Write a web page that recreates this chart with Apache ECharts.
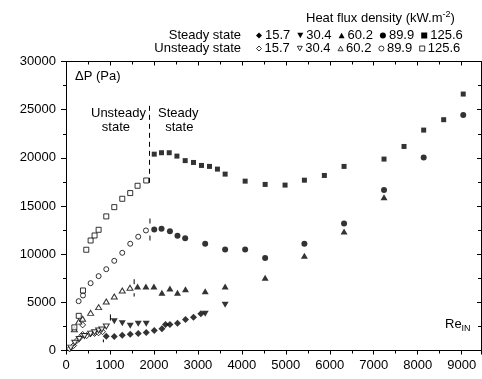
<!DOCTYPE html>
<html><head><meta charset="utf-8">
<script src="https://cdn.jsdelivr.net/npm/echarts@6/dist/echarts.min.js"></script>
<style>html,body{margin:0;padding:0;background:#fff}#c{width:482px;height:379px}</style>
</head><body><div id="c"></div>
<script>
// ---- data (Re_IN, ΔP in Pa) ----
const steady157 = [[916,1490],[1098,1450],[1280,1590],[1461,1690],[1643,1770],[1825,1870],[2007,2080],[2182,2250],[2264,2700],[2364,2700],[2536,2840],[2718,3220],[2900,3460],[3068,3810]];
const unsteady157 = [[82,170],[173,520],[250,1040],[325,1380],[378,1660],[378,2660],[470,1550],[552,1730],[650,1770],[742,1840],[830,1950]];
const steady304 = [[1098,3040],[1280,2840],[1461,2560],[1643,2770],[1825,2770],[3166,3810],[3620,4740]];
const unsteady304 = [[110,300],[200,800],[300,1200],[420,1500],[560,1750],[650,1900],[742,2080],[815,2180],[916,2490]];
const steady602 = [[1628,6650],[1818,6650],[2000,6650],[2182,5990],[2364,6440],[2536,5990],[2718,6370],[3166,6160],[3620,6650],[4530,7550],[5423,9830],[6325,12360],[7234,15920]];
const unsteady602 = [[190,2200],[290,3000],[378,3290],[560,3910],[742,4500],[916,5090],[1098,5610],[1280,6230],[1455,6510]];
const steady899 = [[2007,12570],[2173,12640],[2364,12390],[2536,11910],[2711,11660],[3166,11080],[3620,10490],[4075,10490],[4530,9590],[5423,11080],[6325,13190],[7234,16650],[8136,20040],[9036,24440]];
const unsteady899 = [[287,5120],[386,5710],[560,6990],[742,7720],[916,8440],[1098,9310],[1280,10140],[1461,11080],[1643,11810],[1818,12460]];
const steady1256 = [[2007,20380],[2173,20530],[2348,20530],[2523,20180],[2711,19710],[2900,19520],[3082,19210],[3264,19110],[3445,18830],[3620,18310],[4075,17580],[4530,17240],[4983,17170],[5423,17680],[5877,18170],[6325,19110],[7234,19870],[7689,21180],[8136,22880],[8591,23960],[9036,26620]];
const unsteady1256 = [[190,2400],[290,3600],[386,6230],[461,10460],[560,11420],[650,11940],[742,12530],[916,13920],[1098,14880],[1280,15750],[1461,16340],[1628,17100],[1825,17650]];
// transition markers: [Re, ΔP top, ΔP bottom]
const markerSquare = [1900, 25400, 17000];
const markerCircle = [1910, 13700, 11300];
const markerTri = [1550, 7400, 5600];
const markerTriDown = [1010, 3750, 3100];
const markerDiamond = [850, 1150, 850];
const fluxLabels = ['15.7','30.4','60.2','89.9','125.6'];
const xTicks = {min:0, max:9440, interval:1000};
const yTicks = {min:0, max:30000, interval:5000};

const FONT = 'Liberation Sans, Arial, sans-serif';
const chart = echarts.init(document.getElementById('c'), null, {renderer:'canvas'});
const DOWN = 'path://M0,0 L10,0 L5,9 Z';
const UP = 'path://M5,0 L10,9 L0,9 Z';

function sc(name, data, symbol, size, filled){
  return {type:'scatter', name, data, symbol, symbolSize:size,
    itemStyle: filled ? {color:'#000'} : {color:'#fff', borderColor:'#000', borderWidth:1},
    z:3, silent:true};
}
function mk(m, dash){
  return {type:'line', data:[[m[0],m[1]],[m[0],m[2]]], symbol:'none', silent:true,
    lineStyle:{color:'#000', width:1, type:dash}, z:2};
}
const sNames = fluxLabels.map(f=>'S '+f);
const uNames = fluxLabels.map(f=>'U '+f);
const series = [
  sc(sNames[0], steady157, 'diamond', 7, true),
  sc(sNames[1], steady304, DOWN, [7,6], true),
  sc(sNames[2], steady602, UP, [7,6], true),
  sc(sNames[3], steady899, 'circle', 6, true),
  sc(sNames[4], steady1256, 'rect', 5, true),
  sc(uNames[0], unsteady157, 'diamond', [6,6], false),
  sc(uNames[1], unsteady304, DOWN, [6,5], false),
  sc(uNames[2], unsteady602, UP, [6,5], false),
  sc(uNames[3], unsteady899, 'circle', 5, false),
  sc(uNames[4], unsteady1256, 'rect', 5, false),
  mk(markerSquare, [5,4]),
  mk(markerCircle, [5,12]),
  mk(markerTri, [5,9]),
  mk(markerTriDown, 'solid'),
  mk(markerDiamond, 'solid')
];

const axisCommon = {
  axisLine:{show:true, onZero:false, lineStyle:{color:'#000', width:1}},
  splitLine:{show:false},
  minorSplitLine:{show:false}
};
const lg = (names, top, sz, bw) => ({
  data:names, left:256, top, orient:'horizontal', itemWidth:sz, itemHeight:sz, itemGap:7,
  padding:0, selectedMode:false,
  itemStyle: bw ? {borderWidth:bw} : undefined,
  formatter:n=>n.split(' ')[1],
  textStyle:{fontFamily:FONT, fontSize:13, color:'#000', padding:[0,0,0,-2]}
});

chart.setOption({
  animation:false,
  backgroundColor:'#fff',
  grid:{left:66, right:1, top:61.5, bottom:28.5, containLabel:false},
  xAxis:[
    Object.assign({type:'value', position:'bottom'}, xTicks, axisCommon, {
      axisTick:{show:true, inside:false, length:4, lineStyle:{color:'#000'}},
      minorTick:{show:true, splitNumber:2, length:3, lineStyle:{color:'#000'}},
      axisLabel:{fontFamily:FONT, fontSize:13, color:'#000', margin:8, showMaxLabel:false, formatter:v=>String(v)}
    }),
    Object.assign({type:'value', position:'top'}, xTicks, axisCommon, {
      axisTick:{show:true, inside:true, length:4, lineStyle:{color:'#000'}},
      minorTick:{show:true, splitNumber:2, length:3, lineStyle:{color:'#000'}},
      axisLabel:{show:false}
    })
  ],
  yAxis:[
    Object.assign({type:'value', position:'left'}, yTicks, axisCommon, {
      axisTick:{show:true, inside:false, length:5, lineStyle:{color:'#000'}},
      minorTick:{show:true, splitNumber:2, length:3, lineStyle:{color:'#000'}},
      axisLabel:{fontFamily:FONT, fontSize:13, color:'#000', margin:10, formatter:v=>String(v)}
    }),
    Object.assign({type:'value', position:'right'}, yTicks, axisCommon, {
      axisTick:{show:true, inside:true, length:4, lineStyle:{color:'#000'}},
      minorTick:{show:true, splitNumber:2, length:3, lineStyle:{color:'#000'}},
      axisLabel:{show:false}
    })
  ],
  legend:[lg(sNames, 29, 6), lg(uNames, 42, 5, 1)],
  graphic:[
    {type:'text', left:306, top:10, style:{
      text:'{a|Heat flux density (kW.m}{s|-2}{a|)}',
      rich:{a:{fontFamily:FONT, fontSize:13, fill:'#000', verticalAlign:'bottom', lineHeight:15},
            s:{fontFamily:FONT, fontSize:9, fill:'#000', verticalAlign:'top', lineHeight:15, padding:[0,0,8,0]}}}},
    {type:'text', right:241, top:29, style:{text:'Steady state', font:'13px '+FONT, fill:'#000', align:'right'}},
    {type:'text', right:241, top:42, style:{text:'Unsteady state', font:'13px '+FONT, fill:'#000', align:'right'}},
    {type:'text', left:75, top:70, style:{text:'ΔP (Pa)', font:'13px '+FONT, fill:'#000'}},
    {type:'text', left:91, top:106, style:{text:'Unsteady\n   state', font:'13px '+FONT, fill:'#000', lineHeight:14}},
    {type:'text', left:158, top:106, style:{text:'Steady\n  state', font:'13px '+FONT, fill:'#000', lineHeight:14}},
    {type:'text', left:445, top:318, style:{
      text:'{a|Re}{s|IN}',
      rich:{a:{fontFamily:FONT, fontSize:13, fill:'#000'}, s:{fontFamily:FONT, fontSize:9, fill:'#000', padding:[8,0,0,0]}}}}
  ],
  series
});
</script></body></html>
